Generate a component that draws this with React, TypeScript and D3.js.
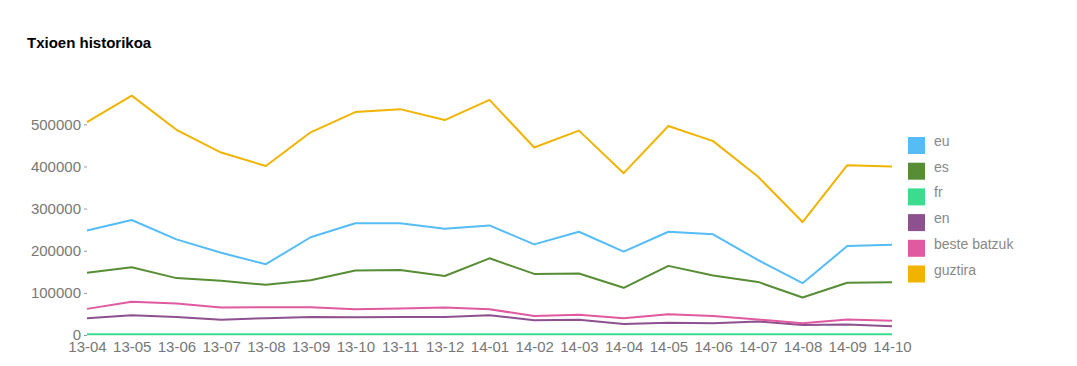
import { useRef, useEffect } from 'react';
import * as d3 from 'd3';

const months = ['13-04', '13-05', '13-06', '13-07', '13-08', '13-09', '13-10', '13-11', '13-12', '14-01',
  '14-02', '14-03', '14-04', '14-05', '14-06', '14-07', '14-08', '14-09', '14-10'];

const eu = [248000, 273000, 227000, 195000, 168000, 232000, 265000, 265000, 252000, 260000,
  215000, 245000, 198000, 245000, 239000, 178000, 123000, 211000, 214000];
const es = [148000, 161000, 135000, 129000, 119000, 130000, 153000, 154000, 140000, 182000,
  145000, 146000, 112000, 164000, 141000, 126000, 89000, 124000, 125000];
const fr = [2000, 2000, 2000, 2000, 2000, 2000, 2000, 2000, 2000, 2000,
  2000, 2000, 2000, 2000, 2000, 2000, 2000, 2000, 2000];
const en = [40000, 47000, 43000, 36000, 40000, 43000, 42000, 43000, 43000, 47000,
  35000, 36000, 26000, 29000, 28000, 32000, 24000, 25000, 21000];
const besteBatzuk = [62000, 79000, 75000, 65000, 66000, 66000, 61000, 63000, 65000, 61000,
  45000, 48000, 40000, 49000, 45000, 37000, 28000, 37000, 34000];
const guztira = [505000, 568000, 487000, 433000, 401000, 481000, 529000, 536000, 510000, 558000,
  445000, 485000, 384000, 496000, 460000, 376000, 268000, 403000, 400000];

const seriesNames = ['eu', 'es', 'fr', 'en', 'beste batzuk', 'guztira'];
const seriesValues = [eu, es, fr, en, besteBatzuk, guztira];
const colors = ['#55bcf6', '#568d35', '#3bdc8e', '#8e518f', '#e05aa0', '#f0b400'];
const yTicks = [0, 100000, 200000, 300000, 400000, 500000];

export default function App() {
  const svgRef = useRef<SVGSVGElement>(null);

  useEffect(() => {
    const svg = d3.select(svgRef.current);
    svg.selectAll('*').remove();
    const font = 'Liberation Sans, Arial, sans-serif';

    const x = d3.scalePoint().domain(months).range([87, 892]);
    const y = d3.scaleLinear().domain([0, 500000]).range([335, 124.3]);

    svg.append('text').attr('x', 27).attr('y', 48).attr('font-family', font)
      .attr('font-size', 15).attr('font-weight', 'bold').attr('fill', '#000').text('Txioen historikoa');

    // y axis
    const ya = svg.append('g').attr('transform', 'translate(87,0)')
      .call(d3.axisLeft(y).tickValues(yTicks).tickSize(3).tickPadding(3).tickFormat(d3.format('d')));
    ya.select('.domain').remove();
    ya.selectAll('.tick line').attr('stroke', '#999');
    ya.selectAll('text').attr('fill', '#777').attr('font-size', 15).attr('font-family', font);

    // x axis
    const xa = svg.append('g').attr('transform', 'translate(0,336)')
      .call(d3.axisBottom(x).tickSize(0).tickPadding(5));
    xa.select('.domain').remove();
    xa.selectAll('text').attr('fill', '#777').attr('font-size', 15).attr('font-family', font);

    const line = d3.line<number>().x((_, i) => x(months[i])!).y(d => y(d));
    seriesValues.forEach((vals, i) => {
      svg.append('path').datum(vals).attr('fill', 'none').attr('stroke', colors[i])
        .attr('stroke-width', 2).attr('stroke-linejoin', 'round').attr('d', line);
    });

    // legend
    const lg = svg.append('g').attr('transform', 'translate(908,137)');
    seriesNames.forEach((name, i) => {
      const row = lg.append('g').attr('transform', `translate(0,${i * 25.7})`);
      row.append('rect').attr('width', 17).attr('height', 17).attr('fill', colors[i]);
      row.append('text').attr('x', 26).attr('y', 9).attr('font-family', font)
        .attr('font-size', 14).attr('fill', '#888').text(name);
    });
  }, []);

  return (
    <svg ref={svgRef} width={1077} height={366}
      style={{ position: 'absolute', left: 0, top: 0, background: '#fff' }} />
  );
}
